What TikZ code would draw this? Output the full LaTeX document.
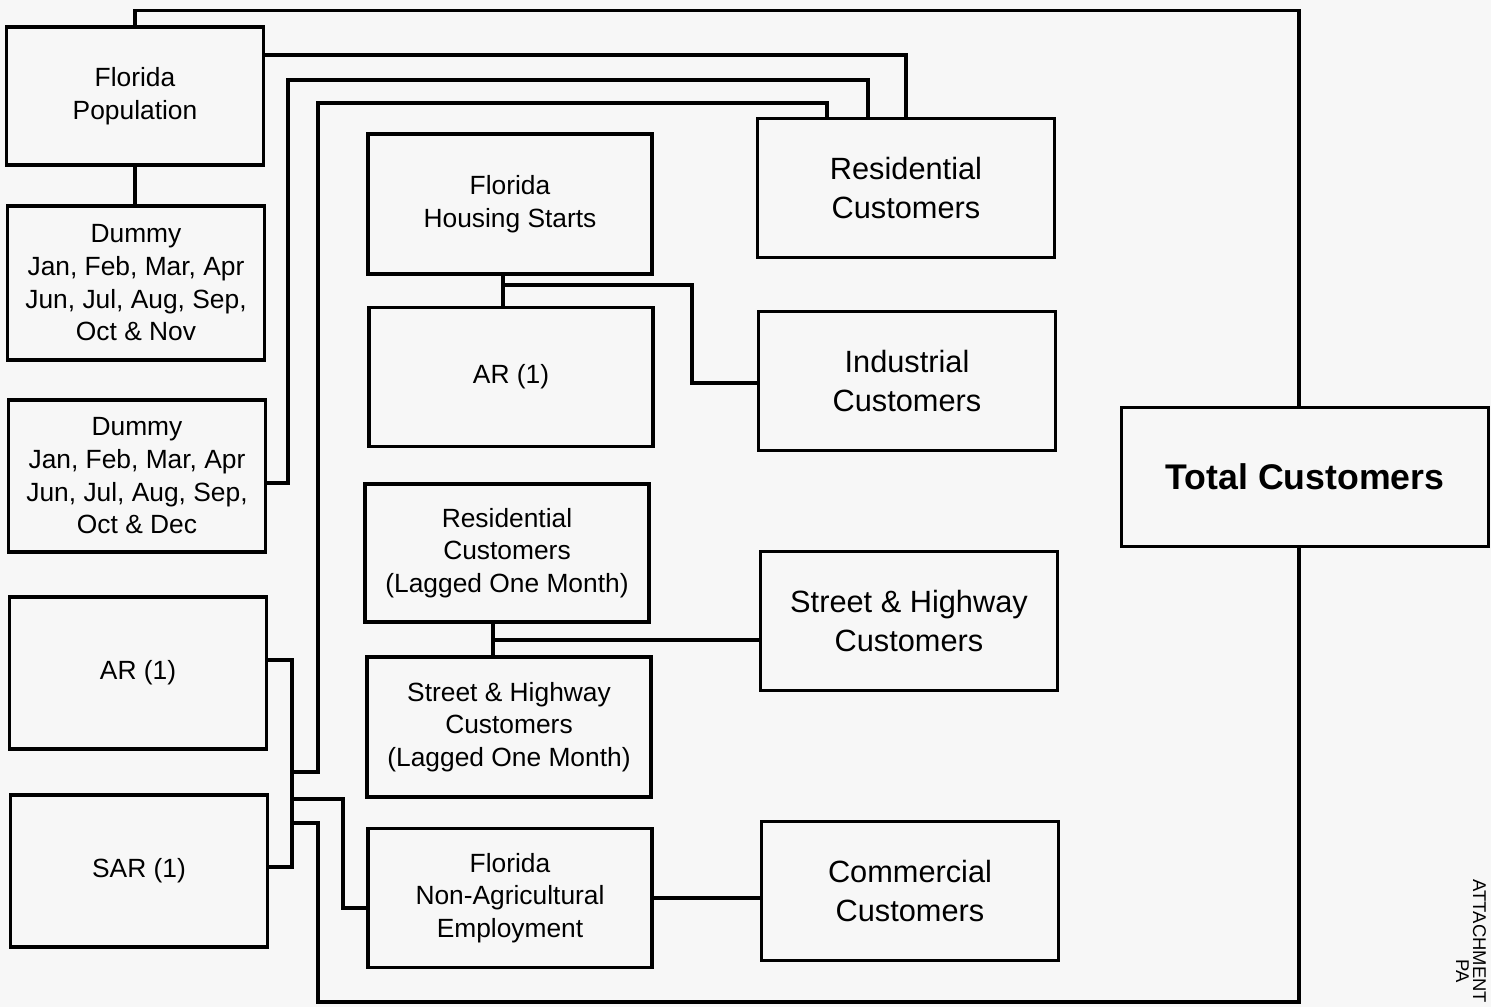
\documentclass[tikz,border=0pt]{standalone}
\usepackage{fontspec}
\setmainfont{Liberation Sans}
\begin{document}
\begin{tikzpicture}[x=0.02cm,y=-0.02cm,line width=1.8pt,
  lbox/.style={draw,align=center,minimum width=5.13cm,minimum height=3.04cm,font=\fontsize{15}{18.6}\selectfont},
  mbox/.style={draw,align=center,minimum width=5.68cm,minimum height=2.78cm,font=\fontsize{15}{18.6}\selectfont},
  rbox/.style={draw,align=center,minimum width=5.94cm,minimum height=2.78cm,font=\fontsize{17.5}{22.2}\selectfont},
  stamp/.style={rotate=-90,anchor=base west,inner sep=0pt,font=\fontsize{10.5}{12}\selectfont}]
\fill[black!3] (0,0) rectangle (1491,1007);
\useasboundingbox (0,0) rectangle (1491,1007);
% left column
\node[lbox,minimum height=2.76cm] (pop) at (135,96) {Florida\\Population};
\node[lbox,minimum height=3.08cm] (dnov) at (136,283) {Dummy\\Jan, Feb, Mar, Apr\\Jun, Jul, Aug, Sep,\\Oct \& Nov};
\node[lbox] (ddec) at (137,476) {Dummy\\Jan, Feb, Mar, Apr\\Jun, Jul, Aug, Sep,\\Oct \& Dec};
\node[lbox] (arl) at (138,673) {AR (1)};
\node[lbox] (sar) at (139,871) {SAR (1)};
% middle column
\node[mbox,minimum height=2.8cm] (hstart) at (510,204) {Florida\\Housing Starts};
\node[mbox] (arm) at (511,377) {AR (1)};
\node[mbox,minimum height=2.76cm] (reslag) at (507,553) {Residential\\Customers\\(Lagged One Month)};
\node[mbox,minimum height=2.8cm] (shlag) at (509,727) {Street \& Highway\\Customers\\(Lagged One Month)};
\node[mbox] (emp) at (510,898) {Florida\\Non-Agricultural\\Employment};
% right column
\node[rbox] (res) at (906,188) {Residential\\Customers};
\node[rbox] (ind) at (907,381) {Industrial\\Customers};
\node[rbox] (sh) at (909,621) {Street \& Highway\\Customers};
\node[rbox] (com) at (910,891) {Commercial\\Customers};
\node[draw,minimum width=7.34cm,minimum height=2.78cm,font=\fontsize{20.3}{24}\selectfont\bfseries] (tot) at (1305,477) {Total Customers};
% links
\draw (pop.south) -- (pop.south |- dnov.north);
\draw (pop.north) -- ++(0,-15) -| ([xshift=-0.12cm]tot.north);
\draw (pop.east |- 0,55) -| (res.north);
\draw (ddec.east |- 0,483) -| (288,80) -| (res.north -| 868,0);
\draw (arl.east |- 0,660) -| (292,867) -- (sar.east |- 0,867);
\coordinate (j1) at (292,772);
\coordinate (j2) at (292,799);
\coordinate (j3) at (292,823);
\draw (j1) -| (318,103) -| (res.north -| 827,0);
\draw (j2) -| (343,908) -- (emp.west |- 0,908);
\draw (j3) -| (318,1002) -| ([xshift=-0.12cm]tot.south);
\draw (hstart.south -| 503,0) -- (arm.north -| 503,0);
\coordinate (h1) at (503,285);
\draw (h1) -| (692,383) -- (ind.west |- 0,383);
\draw (reslag.south -| 493,0) -- (shlag.north -| 493,0);
\coordinate (s1) at (493,640);
\draw (s1) -- (sh.west |- s1);
\draw (emp.east) -- (emp.east -| com.west);
% stamp on the edge
\node[stamp] (att) at (1473,878) {ATTACHMENT};
\node[stamp] (pg) at (1456,958) {PA};
\end{tikzpicture}
\end{document}
